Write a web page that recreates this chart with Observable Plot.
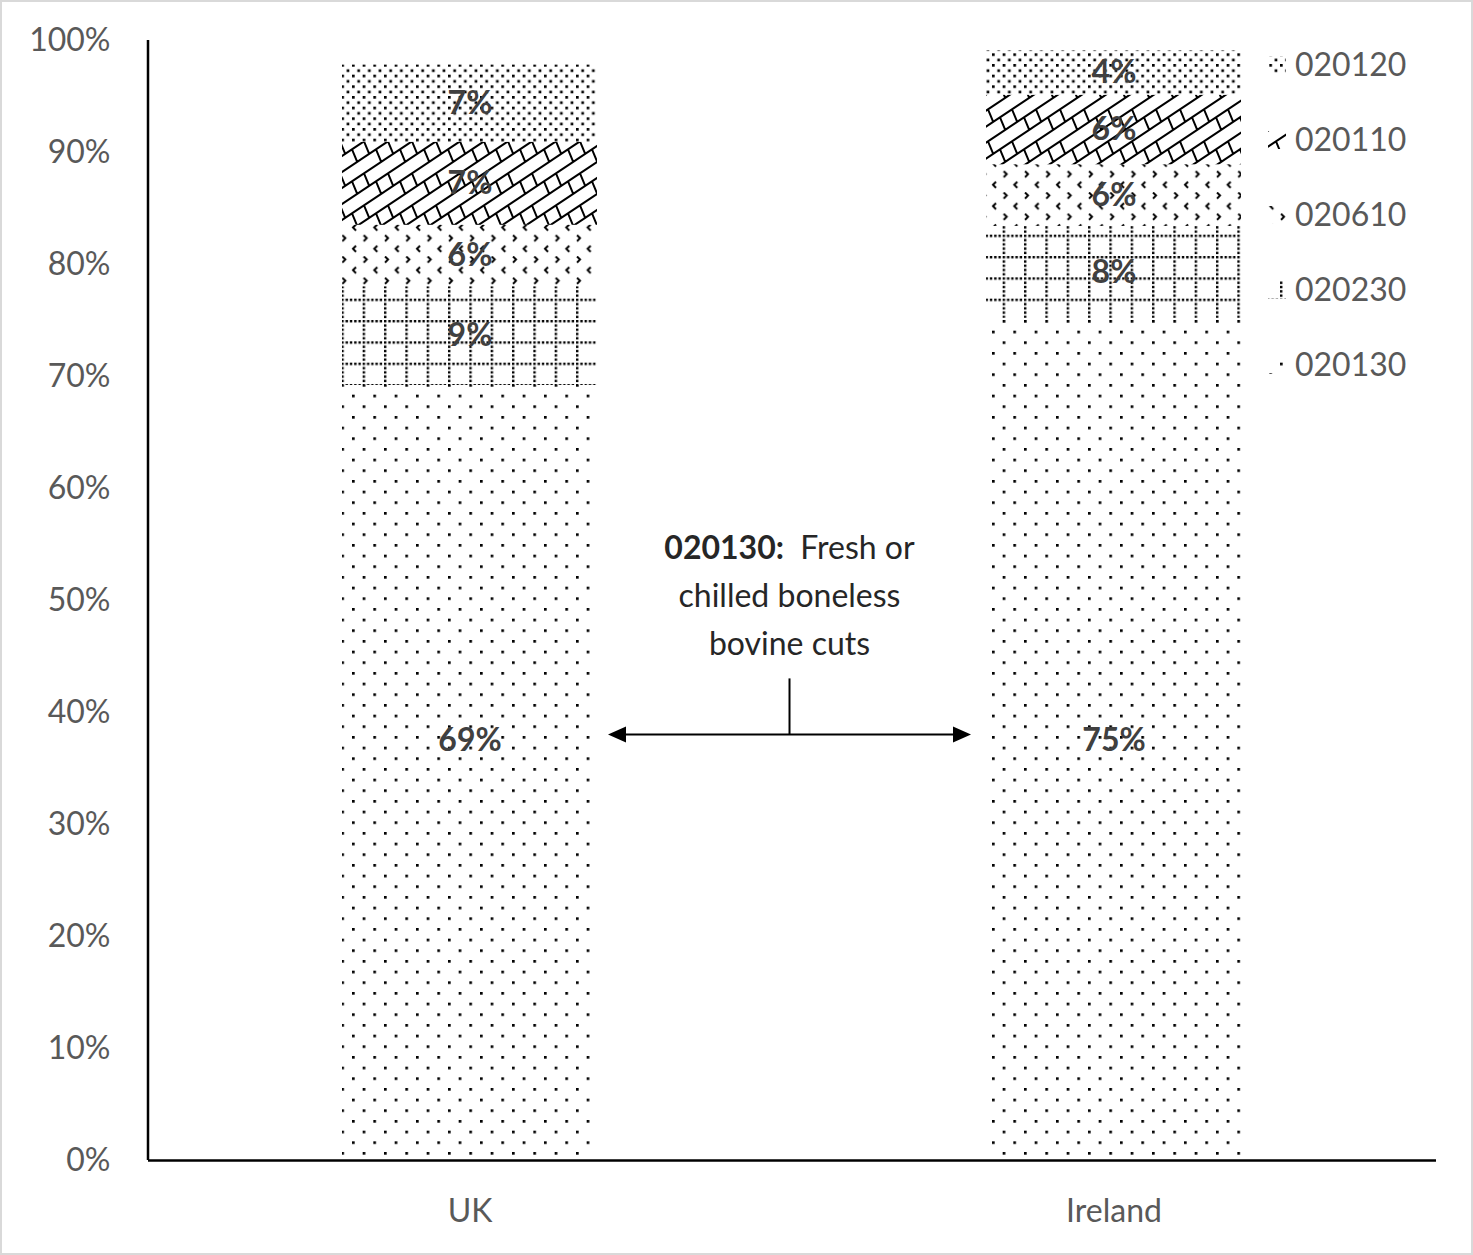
<!DOCTYPE html>
<html><head><meta charset="utf-8">
<script src="https://cdn.jsdelivr.net/npm/d3@7"></script>
<script src="https://cdn.jsdelivr.net/npm/@observablehq/plot@0.6"></script>
<style>
body{margin:0;background:#fff;}
#wrap{position:relative;width:1473px;height:1255px;}
#border{position:absolute;left:0;top:0;width:1473px;height:1255px;box-sizing:border-box;border:2px solid #d9d9d9;pointer-events:none;}
svg{font-family:Lato,"Open Sans",sans-serif;}
</style></head><body><div id="wrap"><div id="border"></div></div>
<script>
// ---- data ----
const countries = ["UK", "Ireland"];
const codes = ["020130", "020230", "020610", "020110", "020120"]; // stacked bottom -> top
const ukShares = [69.2, 8.8, 5.5, 7.4, 6.9];
const irelandShares = [75.2, 8.2, 5.5, 6.2, 4.0];
const yTicks = [0, 10, 20, 30, 40, 50, 60, 70, 80, 90, 100];
const legendOrder = ["020120", "020110", "020610", "020230", "020130"];
const annotationCode = "020130:";
const annotationLines = ["Fresh or", "chilled boneless", "bovine cuts"];
const arrowLevel = 38;       // % level of the double arrow
const stemLevel = 43;        // % level of the stem top
const baseLabelLevel = 37.5; // % level of the 020130 labels

const sharesByCountry = {UK: ukShares, Ireland: irelandShares};
const rows = countries.flatMap(c => codes.map((code, i) => ({country: c, code, share: sharesByCountry[c][i]})));
const baseRows = rows.filter(d => d.code === "020130");

// ---- layout ----
const W = 1473, H = 1255, ML = 148, MR = 37, MT = 40, MB = 95;
const PAD_IN = 0.604, PAD_OUT = 0.302;
const STEP = (W - ML - MR) / (countries.length - PAD_IN + 2 * PAD_OUT);
const BW = STEP * (1 - PAD_IN);

const NS = "http://www.w3.org/2000/svg";
function el(tag, attrs, parent) {
  const e = document.createElementNS(NS, tag);
  for (const k in attrs) e.setAttribute(k, attrs[k]);
  if (parent) parent.appendChild(e);
  return e;
}
function pattern(defs, id, w, h) {
  return el("pattern", {id, patternUnits: "userSpaceOnUse", width: w, height: h}, defs);
}
function patternDefs() {
  const g = el("g", {});
  const defs = el("defs", {}, g);
  const u = 8 / 3, T = 8 * u;
  // 020130: sparse staggered dots
  let p = pattern(defs, "p020130", T, T);
  el("rect", {x: 0, y: 0, width: u, height: u, fill: "#000"}, p);
  el("rect", {x: 4 * u, y: 4 * u, width: u, height: u, fill: "#000"}, p);
  // 020120: dense staggered dots
  p = pattern(defs, "p020120", 4 * u, 4 * u);
  el("rect", {x: 0, y: 0, width: u, height: u, fill: "#000"}, p);
  el("rect", {x: 2 * u, y: 2 * u, width: u, height: u, fill: "#000"}, p);
  // 020230: dotted grid
  p = pattern(defs, "p020230", T, T);
  for (let i = 0; i < 5; i++) {
    el("rect", {x: i * T / 5, y: 0, width: 2.4, height: 2.4, fill: "#000"}, p);
    if (i > 0) el("rect", {x: 0, y: i * T / 5, width: 2.4, height: 2.4, fill: "#000"}, p);
  }
  // 020610: small chevrons
  p = pattern(defs, "p020610", T, T);
  el("path", {d: `M1,0.5 L4,3.5 L1,6.5`, fill: "none", stroke: "#000", "stroke-width": 2}, p);
  el("path", {d: `M${4 * u + 4},${4 * u + 0.5} L${4 * u + 1},${4 * u + 3.5} L${4 * u + 4},${4 * u + 6.5}`, fill: "none", stroke: "#000", "stroke-width": 2}, p);
  // 020110: shingle / bricks
  const h = 16, SW = 24, s = h / SW;
  p = pattern(defs, "p020110", SW, 2 * h);
  let d = "";
  for (let k = -1; k <= 2; k++) {
    d += `M${-4},${k * h + h + 4 * s} L${SW + 4},${k * h - 4 * s} `;
  }
  const conn = (a, k) => {
    const y0 = k * h + h - a * s;
    return `M${a},${y0} L${a + 5},${y0 + 12} `;
  };
  d += conn(4, 0) + conn(4 + SW / 2, 1) + conn(4 + SW / 2, -1);
  el("path", {d, fill: "none", stroke: "#000", "stroke-width": 2}, p);
  return g;
}

function annotation(index, scales) {
  const g = el("g", {});
  const x1 = scales.x("UK") + BW + 11;
  const x2 = scales.x("Ireland") - 15;
  const ya = scales.y(arrowLevel);
  const ys = scales.y(stemLevel);
  const xm = (x1 + x2) / 2;
  el("line", {x1: x1 + 10, x2: x2 - 10, y1: ya, y2: ya, stroke: "#000", "stroke-width": 2}, g);
  el("path", {d: `M${x1},${ya} L${x1 + 18},${ya - 8} L${x1 + 18},${ya + 8} Z`, fill: "#000"}, g);
  el("path", {d: `M${x2},${ya} L${x2 - 18},${ya - 8} L${x2 - 18},${ya + 8} Z`, fill: "#000"}, g);
  el("line", {x1: xm, x2: xm, y1: ys, y2: ya, stroke: "#000", "stroke-width": 2}, g);
  const lineH = 48;
  const base3 = ys - 23;
  for (let i = 0; i < annotationLines.length; i++) {
    const t = el("text", {x: xm, y: base3 - (annotationLines.length - 1 - i) * lineH, "text-anchor": "middle", "font-size": 32, fill: "#262626"}, g);
    if (i === 0) {
      const b = el("tspan", {"font-weight": "bold"}, t);
      b.textContent = annotationCode;
      const r = el("tspan", {}, t);
      r.textContent = "\u00a0\u00a0" + annotationLines[i];
    } else t.textContent = annotationLines[i];
  }
  return g;
}

function legend() {
  const g = el("g", {"text-anchor": "start"});
  const xr = W - MR;
  legendOrder.forEach((code, i) => {
    const cy = MT + 25 + i * 75;
    el("rect", {x: xr - 168, y: cy - 9, width: 18, height: 18, fill: `url(#p${code})`}, g);
    const t = el("text", {x: xr - 141, y: cy, dy: "0.35em", "font-size": 32, fill: "#595959", "text-anchor": "start"}, g);
    t.textContent = code;
  });
  return g;
}

const chart = Plot.plot({
  width: W,
  height: H,
  marginLeft: ML,
  marginRight: MR,
  marginTop: MT,
  marginBottom: MB,
  style: {fontFamily: "Lato, 'Open Sans', sans-serif", fontSize: "32px", background: "white", color: "black"},
  x: {domain: countries, paddingInner: PAD_IN, paddingOuter: PAD_OUT, label: null},
  y: {domain: [0, 100], label: null},
  color: {domain: codes, range: codes.map(c => `url(#p${c})`)},
  marks: [
    patternDefs,
    Plot.barY(rows, Plot.stackY({x: "country", y: "share", fill: "code", z: "code"})),
    Plot.text(rows, Plot.stackY({x: "country", y: "share", z: "code",
      text: d => d.code === "020130" ? "" : Math.round(d.share) + "%",
      fill: "#404040", fontWeight: "bold", fontSize: 32})),
    Plot.text(baseRows, {x: "country", y: () => baseLabelLevel, text: d => Math.round(d.share) + "%",
      fill: "#404040", fontWeight: "bold", fontSize: 32}),
    Plot.axisY({ticks: yTicks, tickFormat: d => d + "%", tickSize: 0, tickPadding: 38, fill: "#595959", fontSize: 32, label: null}),
    Plot.axisX({tickSize: 0, tickPadding: 39, fill: "#595959", fontSize: 32, label: null}),
    Plot.ruleY([0], {stroke: "#000", strokeWidth: 2.5}),
    () => {
      const g = el("g", {});
      el("line", {x1: ML, x2: ML, y1: MT, y2: H - MB, stroke: "#000", "stroke-width": 2.5}, g);
      return g;
    },
    annotation,
    legend
  ]
});
document.getElementById("wrap").prepend(chart);
</script>
</body></html>
